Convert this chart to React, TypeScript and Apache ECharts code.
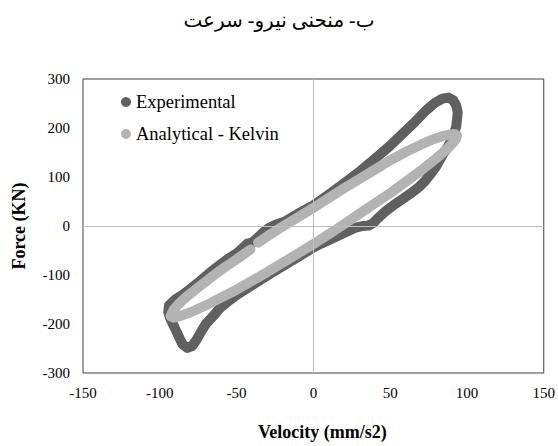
import React, { useEffect, useRef } from "react";
import * as echarts from "echarts";

const titleText = "ب- منحنی نیرو- سرعت";
const xTitle = "Velocity (mm/s2)";
const yTitle = "Force (KN)";
const seriesNames = ["Experimental", "Analytical - Kelvin"];

const xTicks = [-150, -100, -50, 0, 50, 100, 150];
const yTicks = [-300, -200, -100, 0, 100, 200, 300];

// Experimental loop (velocity, force)
const expVelocity = [
  -94, -90, -85, -80, -74, -68, -62, -56, -50, -46, -43, -40, -37, -33, -29, -25, -18, -10, 0, 10, 20, 30, 40, 50, 58, 66, 73, 79, 84, 88, 91, 93, 94,
  93.5, 93, 91.5, 89.5, 87.5, 85, 82.5, 80, 76.5, 73, 69, 64, 58, 52, 47, 42, 39, 36, 32, 27, 20, 12, 5, 0, -10, -20, -30, -40, -50, -56, -61, -65, -70, -73, -76, -79, -82, -85, -87, -89, -91, -93, -94.5, -94,
];
const expForce = [
  -162, -150, -140, -128, -113, -97, -82, -68, -56, -45, -36, -34, -26, -14, -4, 2, 10, 25, 42, 64, 87, 111, 137, 164, 188, 212, 235, 251, 260, 262, 257, 246, 232,
  216, 203, 188, 173, 161, 150, 136, 122, 107, 93, 80, 68, 55, 42, 30, 16, 6, 1, 0, -4, -14, -26, -36, -44, -63, -82, -101, -121, -141, -155, -168, -183, -200, -215, -232, -245, -249, -242, -230, -216, -203, -190, -176, -162,
];

// Analytical (Kelvin) loop, with the small gap near -38
const kelvinVelocity = [
  -93, -91, -88, -84, -78, -72, -65, -58, -51, -45, -41, null, -36, -30, -20, -10, 0, 10, 20, 30, 40, 50, 60, 70, 78, 85, 89, 92, 93.5,
  93, 91, 87, 80, 70, 60, 50, 40, 30, 20, 10, 0, -10, -20, -30, -40, -50, -60, -70, -80, -87, -91, -93,
];
const kelvinForce = [
  -184, -171, -160, -148, -133, -118, -101, -85, -70, -57, -48, null, -34, -21, -1, 18, 37, 57, 77, 96, 115, 134, 151, 166, 177, 184, 187, 188, 185,
  178, 170, 157, 138, 113, 90, 67, 46, 25, 4, -17, -37, -56, -75, -94, -112, -130, -146, -162, -176, -184, -187, -184,
];

const pairs = (xs: (number | null)[], ys: (number | null)[]) =>
  xs.map((x, i) => (x === null || ys[i] === null ? null : [x, ys[i]]));

const FONT = "Times New Roman, Liberation Serif, serif";

export default function App() {
  const ref = useRef<HTMLDivElement>(null);
  useEffect(() => {
    if (!ref.current) return;
    const chart = echarts.init(ref.current, undefined, { renderer: "svg" });
    chart.setOption({
      animation: false,
      backgroundColor: "#ffffff",
      textStyle: { fontFamily: FONT },
      title: {
        text: titleText,
        left: "center",
        top: 5,
        padding: [5, 0, 5, 26],
        textStyle: {
          fontFamily: "Times New Roman, Liberation Serif, DejaVu Sans, serif",
          fontSize: 20,
          fontWeight: "normal",
          color: "#000",
        },
      },
      legend: {
        data: seriesNames.map((n) => ({ name: n, icon: "circle" })),
        orient: "vertical",
        left: 116,
        top: 87,
        itemWidth: 10,
        itemHeight: 10,
        itemGap: 12,
        textStyle: { fontFamily: FONT, fontSize: 18.5, fontWeight: "normal", color: "#000", lineHeight: 20 },
      },
      grid: {
        left: 83,
        right: 14,
        top: 79,
        bottom: 69,
        show: true,
        borderColor: "#404040",
        borderWidth: 1,
        backgroundColor: "transparent",
      },
      xAxis: {
        type: "value",
        min: xTicks[0],
        max: xTicks[xTicks.length - 1],
        interval: 50,
        name: xTitle,
        nameLocation: "middle",
        nameGap: 50,
        nameTextStyle: {
          fontFamily: FONT,
          fontSize: 18,
          fontWeight: "bold",
          color: "#000",
          padding: [0, 0, 0, 18],
        },
        axisLine: { show: false },
        axisTick: { show: false },
        splitLine: { show: false },
        axisLabel: { fontFamily: FONT, fontSize: 15, fontWeight: "normal", color: "#000", margin: 12 },
      },
      yAxis: {
        type: "value",
        min: yTicks[0],
        max: yTicks[yTicks.length - 1],
        interval: 100,
        name: yTitle,
        nameLocation: "middle",
        nameGap: 55,
        nameTextStyle: {
          fontFamily: FONT,
          fontSize: 18,
          fontWeight: "bold",
          color: "#000",
        },
        axisLine: { show: false },
        axisTick: { show: false },
        splitLine: { show: false },
        axisLabel: { fontFamily: FONT, fontSize: 15, fontWeight: "normal", color: "#000", margin: 13 },
      },
      series: [
        {
          type: "line",
          data: [],
          silent: true,
          z: 1,
          markLine: {
            silent: true,
            symbol: "none",
            label: { show: false },
            lineStyle: { color: "#bfbfbf", type: "solid", width: 1 },
            data: [{ xAxis: 0 }, { yAxis: 0 }],
          },
        },
        {
          name: seriesNames[0],
          type: "line",
          z: 2,
          data: pairs(expVelocity, expForce),
          showSymbol: false,
          symbol: "circle",
          itemStyle: { color: "#606060" },
          lineStyle: { color: "#606060", width: 10, cap: "round", join: "round" },
        },
        {
          name: seriesNames[1],
          type: "line",
          z: 3,
          data: pairs(kelvinVelocity, kelvinForce),
          connectNulls: false,
          showSymbol: false,
          symbol: "circle",
          itemStyle: { color: "#b3b3b3" },
          lineStyle: { color: "#b3b3b3", width: 10, cap: "round", join: "round" },
        },
      ],
    });
    return () => chart.dispose();
  }, []);
  return (
    <div
      ref={ref}
      style={{ position: "fixed", left: 0, top: 0, width: 558, height: 446 }}
    />
  );
}
